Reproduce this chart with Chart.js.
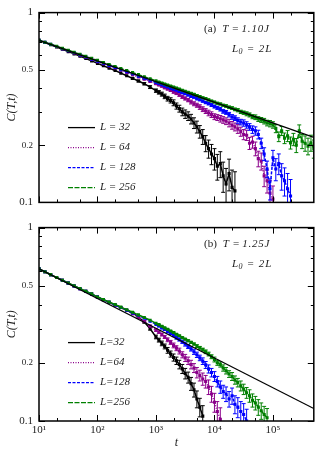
<!DOCTYPE html>
<html><head><meta charset="utf-8">
<script src="https://cdn.jsdelivr.net/npm/chart.js@4.4.1/dist/chart.umd.min.js"></script>
<style>
html,body{margin:0;padding:0;background:#fff;}
canvas{display:block;}
</style></head><body>
<canvas id="ca" width="316" height="215"></canvas>
<canvas id="cb" width="316" height="238"></canvas>
<script>
// ---------- DATA ----------
const times = [10,12.6,15.8,20,25.1,31.6,39.8,50.1,63.1,79.4,100,126,158,200,251,316,398,501,631,794,1000,
 1120,1260,1410,1580,1780,2000,2240,2510,2820,3160,3550,3980,4470,5010,5620,6310,7080,7940,8910,10000,
 11200,12600,14100,15800,17800,20000,22400,25100,28200,31600,35500,39800,44700,50100,56200,63100,70800,79400,89100,100000,
 112000,126000,141000,158000,178000,200000,224000,251000,282000,316000,355000,398000,447000,501000];

const sizes = ['32','64','128','256'];

// fitted power laws (end points)
const fitTimes = [10, 500000];
const fitTop = [0.715, 0.22];
const fitBot = [0.612, 0.116];

// panel (a) T = 1.10J
const topL32 = [.715,.696,.677,.659,.641,.623,.606,.590,.573,.557,.540,.525,.510,.495,.480,.465,.450,.436,.422,.405,.388,
 .380,.372,.362,.352,.345,.335,.322,.312,.300,.292,.285,.275,.262,.250,.236,.222,.205,.192,.180,.170,.155,.160,.138,.125,.142,.120,.115];
const errTopL32 = [0,0,0,0,0,0,0,0,0,0,0,0,0,0,0,0,.004,.005,.006,.007,.008,
 .008,.009,.010,.010,.011,.012,.012,.013,.014,.015,.015,.016,.017,.018,.018,.020,.020,.021,.022,.022,.024,.025,.025,.026,.027,.028,.030];
const topL64 = [.715,.697,.679,.662,.645,.629,.613,.597,.582,.567,.552,.538,.524,.511,.497,.484,.471,.458,.446,.434,.422,
 .416,.409,.402,.396,.389,.382,.376,.368,.360,.353,.346,.338,.331,.325,.318,.310,.303,.296,.290,.283,
 .280,.276,.272,.268,.262,.255,.250,.244,.236,.228,.226,.205,.208,.192,.170,.165,.138,.130,.112,.104];
const errTopL64 = [0,0,0,0,0,0,0,0,0,0,0,0,0,0,0,0,0,0,.003,.003,.004,
 .004,.004,.005,.005,.005,.006,.006,.006,.007,.007,.007,.008,.008,.008,.009,.009,.009,.010,.010,.010,
 .010,.011,.011,.011,.012,.012,.012,.013,.013,.014,.014,.015,.015,.016,.016,.017,.017,.018,.018,.018];
const topL128 = [.715,.697,.680,.663,.646,.630,.614,.599,.584,.569,.555,.541,.527,.514,.501,.488,.476,.463,.451,.440,.428,
 .423,.417,.411,.406,.400,.395,.390,.384,.378,.374,.368,.362,.358,.352,.348,.342,.336,.332,.326,.320,
 .315,.310,.302,.298,.290,.282,.278,.270,.265,.262,.256,.250,.242,.238,.228,.205,.180,.150,.118,
 .172,.150,.160,.138,.130,.118,.108];
const errTopL128 = [0,0,0,0,0,0,0,0,0,0,0,0,0,0,0,0,0,0,0,0,0,
 .003,.003,.003,.003,.003,.003,.003,.003,.003,.003,.004,.004,.004,.005,.005,.005,.005,.006,.006,.006,
 .006,.007,.007,.007,.008,.008,.008,.009,.009,.010,.010,.010,.011,.012,.012,.013,.014,.015,.015,.016,
 .020,.020,.022,.022,.024,.024,.025];
const topL256 = [.715,.698,.681,.665,.649,.633,.618,.603,.588,.574,.560,.546,.533,.520,.507,.495,.483,.471,.459,.448,.437,
 .431,.426,.420,.415,.410,.405,.400,.395,.390,.385,.380,.376,.371,.366,.361,.356,.352,.347,.342,.338,
 .333,.330,.325,.322,.317,.314,.309,.306,.300,.297,.293,.289,.283,.281,.275,.272,.268,.262,.260,.256,
 .245,.222,.238,.218,.224,.206,.215,.200,.238,.210,.205,.198,.206,.192];
const errTopL256 = [0,0,0,0,0,0,0,0,0,0,0,0,0,0,0,0,0,0,0,0,0,
 .002,.002,.002,.002,.002,.002,.002,.002,.002,.002,.003,.003,.003,.003,.003,.003,.003,.003,.003,.003,
 .004,.004,.004,.005,.005,.005,.005,.006,.006,.006,.007,.007,.007,.008,.008,.008,.009,.009,.010,.010,
 .012,.013,.013,.014,.015,.015,.016,.017,.018,.018,.019,.020,.020,.021];

// panel (b) T = 1.25J
const botL32 = [.612,.591,.571,.552,.534,.516,.499,.483,.468,.453,.437,.424,.411,.398,.386,.374,.362,.345,.325,.300,.272,
 .262,.252,.243,.232,.222,.213,.205,.196,.186,.176,.168,.156,.145,.130,.118,.106];
const errBotL32 = [0,0,0,0,0,0,0,0,0,0,0,0,0,0,0,0,.003,.004,.004,.005,.006,
 .006,.007,.007,.008,.008,.009,.009,.010,.010,.011,.011,.012,.012,.013,.013,.014];
const botL64 = [.612,.591,.571,.552,.534,.516,.499,.483,.468,.453,.437,.424,.411,.398,.386,.374,.359,.343,.327,.310,.295,
 .288,.280,.272,.263,.255,.246,.238,.230,.220,.212,.205,.196,.188,.178,.172,.165,.160,.150,.138,.125,.112,.102];
const errBotL64 = [0,0,0,0,0,0,0,0,0,0,0,0,0,0,0,0,0,0,.003,.003,.004,
 .004,.005,.005,.006,.006,.007,.007,.008,.008,.009,.009,.010,.010,.011,.011,.012,.012,.013,.013,.014,.014,.015];
const botL128 = [.612,.591,.571,.552,.534,.516,.499,.483,.468,.453,.437,.424,.411,.398,.386,.374,.362,.351,.340,.328,.316,
 .310,.303,.297,.290,.284,.277,.270,.264,.257,.250,.243,.236,.228,.220,.212,.204,.195,.186,.178,.170,
 .160,.150,.142,.138,.130,.135,.122,.118,.112,.108,.100];
const errBotL128 = [0,0,0,0,0,0,0,0,0,0,0,0,0,0,0,0,0,0,0,0,0,
 .003,.003,.003,.004,.004,.004,.005,.005,.005,.006,.006,.006,.007,.007,.007,.008,.008,.009,.009,.010,
 .010,.011,.011,.012,.012,.013,.013,.014,.014,.015,.015];
const botL256 = [.612,.591,.571,.552,.534,.517,.500,.484,.469,.454,.438,.425,.412,.400,.388,.376,.365,.354,.343,.332,.320,
 .315,.309,.303,.298,.292,.287,.281,.276,.270,.265,.260,.255,.250,.244,.239,.234,.228,.222,.215,.208,
 .200,.196,.188,.182,.175,.170,.163,.158,.152,.146,.140,.135,.128,.124,.118,.113,.108,.104];
const errBotL256 = [0,0,0,0,0,0,0,0,0,0,0,0,0,0,0,0,0,0,0,0,0,
 .002,.002,.002,.002,.002,.002,.002,.002,.002,.002,.003,.003,.003,.004,.004,.004,.005,.005,.005,.006,
 .006,.006,.007,.007,.007,.008,.008,.008,.009,.009,.009,.010,.010,.010,.011,.011,.011,.012];

// ticks
const xTickVals = [10, 100, 1000, 10000, 100000];
const xTickLabels = ['10\u00B9','10\u00B2','10\u00B3','10\u2074','10\u2075'];
const xMinorVals = [20,50,200,500,2000,5000,20000,50000,200000];
const yTickVals = [0.1, 0.2, 0.5, 1];
const yTickLabels = ['0.1','0.2','0.5','1'];
const yMinorVals = [0.3,0.4,0.6,0.7,0.8,0.9];

// ---------- STYLE ----------
const SERIF = "'Liberation Serif','Times New Roman',serif";
const COLORS = ['#000000','#8b008b','#0000ff','#008000'];
const DASHES = [[],[1,1.5],[3,1.5],[5,1.5]];

function series(vals, errs, k) {
  return {
    label: 'L = ' + sizes[k],
    data: vals.map((v, i) => ({x: times[i], y: v})),
    errors: errs,
    borderColor: COLORS[k], backgroundColor: COLORS[k],
    borderWidth: 1.5, borderDash: DASHES[k],
    pointStyle: 'rect', pointRadius: 2.2, pointBorderWidth: 0, pointHoverRadius: 0,
    order: 4 - k
  };
}
function fitSet(vals) {
  return {
    label: 'fit',
    data: fitTimes.map((t, i) => ({x: t, y: vals[i]})),
    borderColor: '#000', borderWidth: 1.3, pointRadius: 0, order: 0
  };
}

const errorBars = {
  id: 'errorBars',
  afterDatasetDraw(chart, args) {
    const ds = chart.data.datasets[args.index];
    if (!ds.errors) return;
    const {ctx, chartArea: a, scales: {x, y}} = chart;
    ctx.save();
    ctx.beginPath(); ctx.rect(a.left, a.top, a.width, a.height); ctx.clip();
    ctx.strokeStyle = ds.borderColor; ctx.lineWidth = 1; ctx.setLineDash([]);
    ds.data.forEach((p, i) => {
      const e = ds.errors[i];
      if (!e) return;
      const px = x.getPixelForValue(p.x);
      const y1 = y.getPixelForValue(p.y + e), y2 = y.getPixelForValue(p.y - e);
      ctx.beginPath();
      ctx.moveTo(px, y1); ctx.lineTo(px, y2);
      ctx.moveTo(px - 2, y1); ctx.lineTo(px + 2, y1);
      ctx.moveTo(px - 2, y2); ctx.lineTo(px + 2, y2);
      ctx.stroke();
    });
    ctx.restore();
  }
};

const frameTicks = {
  id: 'frameTicks',
  afterDraw(chart) {
    const {ctx, chartArea: a, scales: {x, y}} = chart;
    ctx.save();
    ctx.strokeStyle = '#000'; ctx.lineWidth = 1; ctx.setLineDash([]);
    const vt = (v, len) => {
      const p = Math.round(x.getPixelForValue(v)) + 0.5;
      ctx.beginPath();
      ctx.moveTo(p, a.bottom); ctx.lineTo(p, a.bottom - len);
      ctx.moveTo(p, a.top); ctx.lineTo(p, a.top + len);
      ctx.stroke();
    };
    const ht = (v, len) => {
      const p = Math.round(y.getPixelForValue(v)) + 0.5;
      ctx.beginPath();
      ctx.moveTo(a.left, p); ctx.lineTo(a.left + len, p);
      ctx.moveTo(a.right, p); ctx.lineTo(a.right - len, p);
      ctx.stroke();
    };
    xMinorVals.forEach(v => vt(v, 3));
    xTickVals.forEach(v => vt(v, 6));
    yMinorVals.forEach(v => ht(v, 3));
    yTickVals.forEach(v => ht(v, 6));
    ctx.lineWidth = 1.5;
    ctx.strokeRect(a.left, a.top, a.width, a.height);
    ctx.restore();
  }
};

function drawRuns(ctx, x, y, runs) {
  ctx.textBaseline = 'middle'; ctx.textAlign = 'left'; ctx.fillStyle = '#222';
  for (const r of runs) {
    ctx.font = (r.i ? 'italic ' : '') + (r.s || 11) + 'px ' + SERIF;
    ctx.letterSpacing = (r.ls || 0) + 'px';
    ctx.fillText(r.t, x, y + (r.dy || 0));
    x += ctx.measureText(r.t).width + (r.gap || 0);
  }
  ctx.letterSpacing = '0px';
}

function annotPlugin(panel, temp, eqSpaced) {
  return {
    id: 'annot',
    afterDraw(chart) {
      const {ctx, chartArea: a} = chart;
      ctx.save();
      // legend
      for (let k = 0; k < 4; k++) {
        const yy = a.top + 115 + 20 * k;
        ctx.strokeStyle = COLORS[k]; ctx.lineWidth = 1.3; ctx.setLineDash(DASHES[k]);
        ctx.beginPath(); ctx.moveTo(68, yy); ctx.lineTo(95, yy); ctx.stroke();
        ctx.setLineDash([]);
        const txt = eqSpaced ? 'L = ' + sizes[k] : 'L=' + sizes[k];
        drawRuns(ctx, 100, yy, [{t: txt, i: 1}]);
      }
      drawRuns(ctx, 204, a.top + 17, [
        {t: panel, gap: 6}, {t: 'T', i: 1, gap: 4}, {t: '=', gap: 3}, {t: temp, i: 1, ls: 0.8}
      ]);
      drawRuns(ctx, 232, a.top + 36.5, [
        {t: 'L', i: 1, ls: 0.5}, {t: '0', i: 1, s: 8, dy: 2.5, gap: 5}, {t: '=', gap: 5}, {t: '2L', i: 1, ls: 1}
      ]);
      ctx.restore();
    }
  };
}

function makeChart(id, datasets, bottom, panel, temp, eqSpaced) {
  return new Chart(document.getElementById(id), {
    type: 'line',
    data: {datasets},
    options: {
      responsive: false, animation: false, events: [],
      layout: {padding: bottom ? {top: 10, bottom: 0, left: 0, right: 1} : {top: 8, bottom: 10, left: 0, right: 1}},
      plugins: {legend: {display: false}, tooltip: {enabled: false}},
      scales: {
        x: {
          type: 'logarithmic', min: 10, max: 500000,
          grid: {display: false, drawTicks: false}, border: {display: false},
          afterBuildTicks: s => { s.ticks = xTickVals.map(v => ({value: v})); },
          afterFit: s => { s.height = bottom ? 32 : 0; },
          ticks: {display: bottom, autoSkip: false, maxRotation: 0, minRotation: 0, padding: 3,
            color: '#222', font: {family: SERIF, size: 11},
            callback: (v, i) => xTickLabels[i]},
          title: {display: bottom, text: 't', color: '#222',
            font: {family: SERIF, size: 12, style: 'italic'}, padding: {top: 0, bottom: 3}}
        },
        y: {
          type: 'logarithmic', min: 0.1, max: 1,
          grid: {display: false, drawTicks: false}, border: {display: false},
          afterBuildTicks: s => { s.ticks = yTickVals.map(v => ({value: v})); },
          afterFit: s => { s.width = 39; },
          ticks: {autoSkip: false, padding: 6, color: '#222',
            font: c => ({family: SERIF, size: (c.tick && (c.tick.value === 0.1 || c.tick.value === 1)) ? 11 : 9}),
            callback: (v, i) => yTickLabels[i]},
          title: {display: true, text: 'C(T,t)', color: '#222',
            font: {family: SERIF, size: 12, style: 'italic'}, padding: {top: 5, bottom: 0}}
        }
      }
    },
    plugins: [errorBars, frameTicks, annotPlugin(panel, temp, eqSpaced)]
  });
}

makeChart('ca', [
  fitSet(fitTop),
  series(topL256, errTopL256, 3),
  series(topL128, errTopL128, 2),
  series(topL64, errTopL64, 1),
  series(topL32, errTopL32, 0)
], false, '(a)', '1.10J', true);

makeChart('cb', [
  fitSet(fitBot),
  series(botL256, errBotL256, 3),
  series(botL128, errBotL128, 2),
  series(botL64, errBotL64, 1),
  series(botL32, errBotL32, 0)
], true, '(b)', '1.25J', false);
</script>
</body></html>
